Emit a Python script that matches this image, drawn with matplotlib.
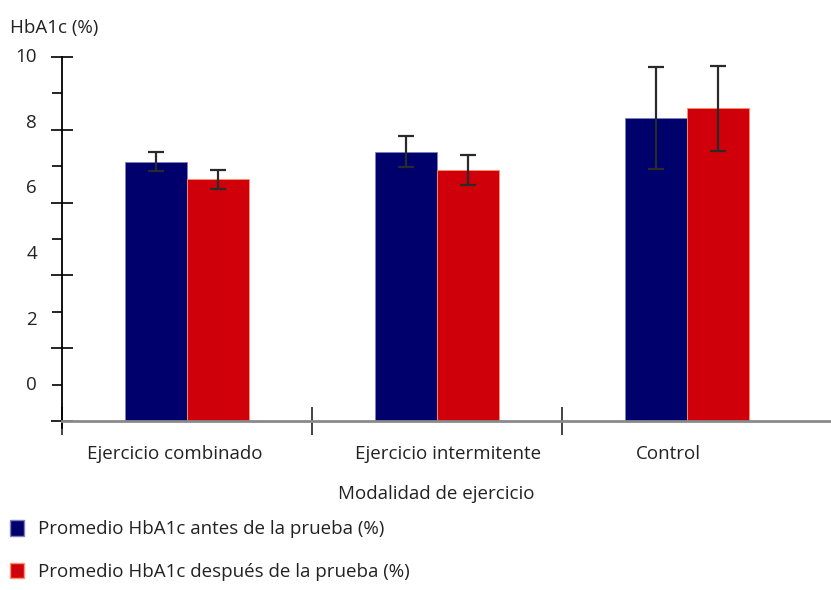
import matplotlib.pyplot as plt
from matplotlib.patches import Patch

plt.rcParams['font.family'] = ['Open Sans', 'DejaVu Sans']

categories = ['Ejercicio combinado', 'Ejercicio intermitente', 'Control']
before_vals = [7.12, 7.40, 8.33]
before_err = [0.26, 0.42, 1.40]
after_vals = [6.64, 6.90, 8.59]
after_err = [0.26, 0.42, 1.17]
ytick_labels = ['10', '8', '6', '4', '2', '0']
ytick_values = [10, 8, 6, 4, 2, 0]

BLUE = '#00006c'
RED = '#d0000a'
FS = 13.5

fig = plt.figure(figsize=(8.31, 5.9), dpi=100)
ax = fig.add_axes([0.0746, 0.2864, 0.9254, 0.617])

width = 0.248
xs = list(range(len(categories)))
err_style = dict(ecolor='#2a2a2a', elinewidth=1.6, capsize=5.5, capthick=1.6)
ax.bar([x - width / 2 for x in xs], before_vals, width, color=BLUE,
       edgecolor='#8080c0', linewidth=0.6, yerr=before_err, error_kw=err_style)
ax.bar([x + width / 2 for x in xs], after_vals, width, color=RED,
       edgecolor='#ff9070', linewidth=0.6, yerr=after_err, error_kw=err_style)

ax.set_xlim(-0.5, 2.576)
ax.set_ylim(0, 10)

for s in ['top', 'right']:
    ax.spines[s].set_visible(False)
ax.spines['bottom'].set_color('#8a8a8a')
ax.spines['bottom'].set_linewidth(2)
ax.spines['left'].set_linewidth(1.3)
ax.spines['left'].set_bounds(-0.2, 10)

# y ticks: crossing major, left-only minor, labels drawn by hand
ax.set_yticks([0, 2, 4, 6, 8, 10])
ax.set_yticks([1, 3, 5, 7, 9], minor=True)
ax.tick_params(axis='y', which='major', direction='inout', length=16, width=1.2, labelleft=False)
ax.tick_params(axis='y', which='minor', direction='out', length=7, width=1.2)
for lab, v in zip(ytick_labels, ytick_values):
    ax.annotate(lab, xy=(0, 10 - (10 - v) * 0.9016), xycoords=ax.get_yaxis_transform(),
                xytext=(-18, 0), textcoords='offset points', ha='right', va='center',
                fontsize=FS, color='#222222')

# x ticks at group boundaries
ax.set_xticks([-0.5, 0.5, 1.5])
ax.set_xticklabels([])
ax.tick_params(axis='x', direction='inout', length=20, width=1.2, color='#222222')
label_shift = [-0.05, 0.045, -0.075]
for x, lab, sh in zip(xs, categories, label_shift):
    ax.text(x + sh, -0.09, lab, transform=ax.get_xaxis_transform(),
            ha='center', va='center', fontsize=FS, color='#222222')

fig.text(10 / 831, 0.9525, 'HbA1c (%)', ha='left', va='center', fontsize=FS, color='#222222')
fig.text(436 / 831, 1 - 494 / 590, 'Modalidad de ejercicio', ha='center', va='center',
         fontsize=FS, color='#222222')

handles = [Patch(facecolor=BLUE, edgecolor='#8080c0'),
           Patch(facecolor=RED, edgecolor='#ff9070')]
fig.legend(handles, ['Promedio HbA1c antes de la prueba (%)',
                     'Promedio HbA1c después de la prueba (%)'],
           loc='upper left', bbox_to_anchor=(-0.006, 1 - 505 / 590), frameon=False,
           fontsize=FS, handlelength=0.75, handleheight=0.9, handletextpad=0.75,
           labelspacing=1.3, borderpad=0.3, labelcolor='#222222')

fig.savefig('out.png', dpi=100)
